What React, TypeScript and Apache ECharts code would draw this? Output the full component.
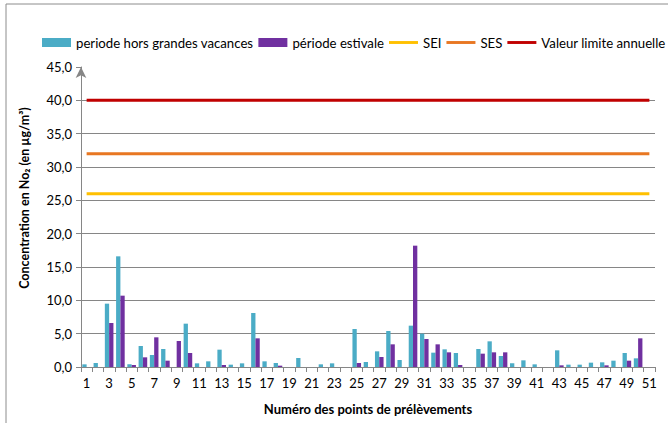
import React, { useEffect, useRef } from "react";
import * as echarts from "echarts";

const categories: string[] = Array.from({ length: 51 }, (_, i) => String(i + 1));

const horsVacances: number[] = [
  0.4, 0.6, 9.5, 16.6, 0.4, 3.15, 1.8, 2.7, 0, 6.5,
  0.55, 0.85, 2.6, 0.35, 0.55, 8.1, 0.85, 0.6, 0, 1.35,
  0, 0.4, 0.55, 0, 5.7, 0.75, 2.35, 5.4, 1.05, 6.2,
  5.0, 2.15, 2.65, 2.1, 0, 2.7, 3.85, 1.65, 0.55, 1.0,
  0.4, 0, 2.5, 0.35, 0.35, 0.65, 0.7, 0.95, 2.1, 1.3,
  0,
];

const estivale: number[] = [
  0, 0, 6.6, 10.7, 0.3, 1.45, 4.45, 0.95, 3.9, 2.1,
  0, 0, 0.3, 0, 0, 4.3, 0, 0.2, 0, 0,
  0, 0, 0, 0, 0.6, 0, 1.5, 3.4, 0, 18.2,
  4.2, 3.4, 2.2, 0.3, 0, 2.0, 2.2, 2.2, 0, 0,
  0, 0, 0.25, 0, 0, 0, 0.25, 0, 0.95, 4.3,
  0,
];

const SEI = 26;
const SES = 32;
const VALEUR_LIMITE = 40;

const FONT = "Lato, 'Open Sans', sans-serif";
const LINE_ICON = "path://M0,0 M0,3 L30,3 L30,6 L0,6 Z M30,9";

export default function App() {
  const ref = useRef<HTMLDivElement>(null);

  useEffect(() => {
    if (!ref.current) return;
    const chart = echarts.init(ref.current, null, { renderer: "svg" });
    const grid = "#868686";
    chart.setOption({
      animation: false,
      backgroundColor: "#ffffff",
      textStyle: { fontFamily: FONT },
      graphic: [
        {
          type: "rect",
          shape: { x: 6, y: 4, width: 700, height: 460 },
          style: { fill: "none", stroke: "#8c8c8c", lineWidth: 1 },
          silent: true,
          z: -1,
        },
      ],
      legend: {
        left: 37,
        top: 31,
        width: 700,
        itemWidth: 29,
        itemHeight: 9,
        itemGap: 5,
        textStyle: { fontFamily: FONT, fontSize: 13.2, color: "#000" },
        data: [
          { name: "periode hors grandes vacances", icon: "rect" },
          { name: "période estivale", icon: "rect" },
          { name: "SEI", icon: LINE_ICON },
          { name: "SES", icon: LINE_ICON },
          { name: "Valeur limite annuelle", icon: LINE_ICON },
        ],
      },
      grid: { left: 81, right: 13, top: 67, bottom: 56, containLabel: false },
      xAxis: {
        type: "category",
        data: categories,
        boundaryGap: true,
        name: "Numéro des points de prélèvements",
        nameLocation: "middle",
        nameGap: 35,
        nameTextStyle: { fontFamily: FONT, fontWeight: "bold", fontSize: 13, color: "#000" },
        axisLine: { lineStyle: { color: grid, width: 1 } },
        axisTick: { show: true, length: 5, lineStyle: { color: grid }, alignWithLabel: false, interval: 0 },
        axisLabel: { interval: 1, fontFamily: FONT, fontSize: 13, color: "#000", margin: 9 },
      },
      yAxis: {
        type: "value",
        min: 0,
        max: 45,
        interval: 5,
        name: "Concentration en No₂ (en µg/m³)",
        nameLocation: "middle",
        nameGap: 50,
        nameTextStyle: {
          fontFamily: FONT,
          fontWeight: "bold",
          fontSize: 12.5,
          color: "#000",
          padding: [0, 0, 0, 38],
        },
        axisLine: {
          show: true,
          symbol: ["none", "arrow"],
          symbolSize: [8, 11],
          lineStyle: { color: grid, width: 1 },
        },
        axisTick: { show: true, length: 5, lineStyle: { color: grid } },
        axisLabel: {
          fontFamily: FONT,
          fontSize: 13,
          color: "#000",
          margin: 9,
          formatter: (v: number) => v.toFixed(1).replace(".", ","),
        },
        splitLine: {
          show: true,
          lineStyle: {
            color: [grid, grid, grid, grid, grid, grid, grid, grid, grid, "rgba(0,0,0,0)"],
            width: 1,
          },
        },
      },
      series: [
        {
          name: "periode hors grandes vacances",
          type: "bar",
          data: horsVacances,
          barWidth: 4.3,
          barGap: "0%",
          itemStyle: { color: "#4BACC6" },
        },
        {
          name: "période estivale",
          type: "bar",
          data: estivale,
          barWidth: 4.3,
          barGap: "0%",
          itemStyle: { color: "#7030A0" },
        },
        {
          name: "SEI",
          type: "line",
          data: categories.map(() => SEI),
          symbol: "none",
          lineStyle: { color: "#FFC000", width: 3 },
          itemStyle: { color: "#FFC000" },
        },
        {
          name: "SES",
          type: "line",
          data: categories.map(() => SES),
          symbol: "none",
          lineStyle: { color: "#E87722", width: 3 },
          itemStyle: { color: "#E87722" },
        },
        {
          name: "Valeur limite annuelle",
          type: "line",
          data: categories.map(() => VALEUR_LIMITE),
          symbol: "none",
          lineStyle: { color: "#C00000", width: 3 },
          itemStyle: { color: "#C00000" },
        },
      ],
    });
    return () => chart.dispose();
  }, []);

  return <div ref={ref} style={{ width: 668, height: 423, position: "absolute", left: 0, top: 0 }} />;
}
